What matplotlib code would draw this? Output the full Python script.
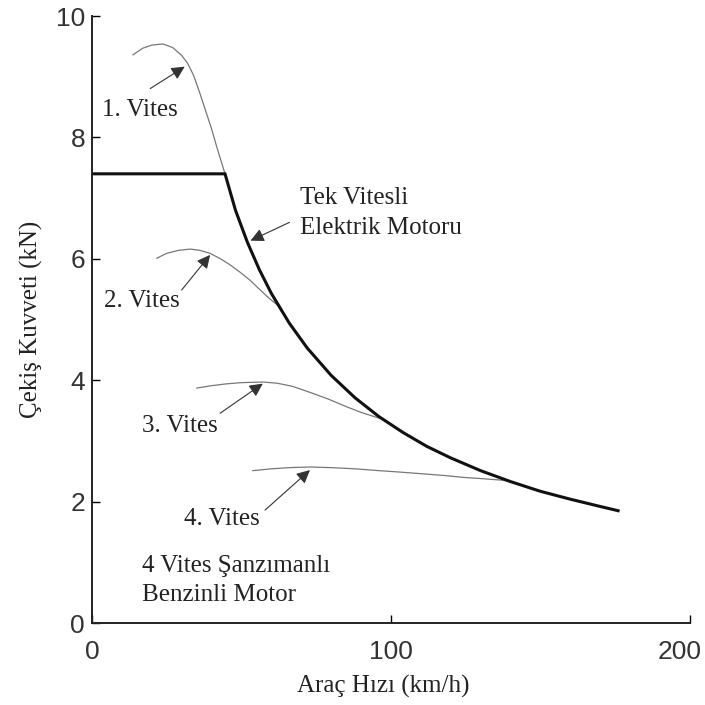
import matplotlib.pyplot as plt
from matplotlib.transforms import ScaledTranslation

plt.rcParams['font.family'] = ['Liberation Serif', 'DejaVu Serif']

# Tek vitesli elektrik motoru (km/h, kN)
ev_speed = [0, 44.5, 48, 52, 56, 60, 66, 72, 80, 88, 96, 104, 112, 120, 130, 140, 150, 160, 170, 176]
ev_force = [7.40, 7.40, 6.80, 6.27, 5.82, 5.43, 4.94, 4.53, 4.08, 3.71, 3.40, 3.14, 2.91, 2.72, 2.51, 2.33, 2.17, 2.04, 1.92, 1.85]

# Benzinli motor, vitesler
g1_speed = [13.7, 17, 20, 23.7, 27, 30, 32, 34, 36, 38, 40, 42, 44.5, 48, 52]
g1_force = [9.36, 9.47, 9.52, 9.54, 9.48, 9.35, 9.22, 9.02, 8.74, 8.44, 8.14, 7.80, 7.40, 6.80, 6.27]
g2_speed = [21.7, 25, 29, 32.8, 36, 39.5, 43, 46.2, 49.5, 52.8, 56, 59, 62, 66]
g2_force = [6.01, 6.09, 6.14, 6.16, 6.14, 6.09, 6.00, 5.90, 5.78, 5.65, 5.50, 5.36, 5.24, 4.94]
g3_speed = [35.1, 40, 45, 50, 57.2, 62, 67, 72.9, 79, 85.3, 90, 97, 104]
g3_force = [3.87, 3.91, 3.94, 3.96, 3.97, 3.95, 3.90, 3.80, 3.69, 3.56, 3.47, 3.36, 3.14]
g4_speed = [53.8, 60, 66, 72.9, 80, 88, 96, 102, 110, 118, 124, 130, 138, 146]
g4_force = [2.51, 2.54, 2.56, 2.57, 2.56, 2.54, 2.51, 2.49, 2.46, 2.43, 2.40, 2.38, 2.35, 2.23]

gear_labels = ['1. Vites', '2. Vites', '3. Vites', '4. Vites']
label_xy = [(3.3, 8.45), (4.0, 5.30), (16.7, 3.24), (30.8, 1.71)]
arrow_tail = [(18.7, 8.78), (29.4, 5.45), (42.1, 3.43), (57.2, 1.83)]
arrow_head = [(31.8, 9.19), (40.1, 6.10), (57.9, 3.97), (73.6, 2.55)]

fs = 18

fig = plt.figure(figsize=(7.05, 7.05), dpi=100)
ax = fig.add_axes([0.1305, 0.1163, 0.848, 0.861])

for xs, ys in [(g1_speed, g1_force), (g2_speed, g2_force), (g3_speed, g3_force), (g4_speed, g4_force)]:
    ax.plot(xs, ys, color='#777777', lw=0.9)
ax.plot(ev_speed, ev_force, color='#111111', lw=2.2, solid_joinstyle='miter')

arrow = dict(arrowstyle='-|>', color='#333333', lw=0.8, mutation_scale=20)
for lab, txy, tail, head in zip(gear_labels, label_xy, arrow_tail, arrow_head):
    ax.text(txy[0], txy[1], lab, fontsize=fs, color='#222222', va='center', ha='left')
    ax.annotate('', xy=head, xytext=tail, arrowprops=arrow)

ax.text(69.6, 7.0, 'Tek Vitesli', fontsize=fs, color='#222222', va='center')
ax.text(69.6, 6.5, 'Elektrik Motoru', fontsize=fs, color='#222222', va='center')
ax.annotate('', xy=(52.2, 6.28), xytext=(66.9, 6.62), arrowprops=arrow)

ax.text(16.7, 0.94, '4 Vites Şanzımanlı', fontsize=fs, color='#222222', va='center')
ax.text(16.7, 0.46, 'Benzinli Motor', fontsize=fs, color='#222222', va='center')

ax.set_xlim(0, 200)
ax.set_ylim(0, 10)
ax.set_xticks([0, 100, 200])
ax.set_yticks([0, 2, 4, 6, 8, 10])
ax.tick_params(direction='in', length=6, width=1, labelsize=19, labelcolor='#333333')
ax.tick_params(axis='x', pad=12)
ax.tick_params(axis='y', pad=5)
for lbl in ax.get_xticklabels() + ax.get_yticklabels():
    lbl.set_family(['Liberation Sans', 'DejaVu Sans'])
# keep the last x label inside the picture
last = ax.get_xticklabels()[-1]
last.set_transform(last.get_transform() + ScaledTranslation(-0.1, 0, fig.dpi_scale_trans))

for side in ['top', 'right']:
    ax.spines[side].set_visible(False)
for side in ['left', 'bottom']:
    ax.spines[side].set_linewidth(1.4)
    ax.spines[side].set_color('#222222')

ax.set_xlabel('Araç Hızı (km/h)', fontsize=fs, color='#222222', labelpad=10)
ax.set_ylabel('Çekiş Kuvveti (kN)', fontsize=fs, color='#222222', labelpad=9)
ax.xaxis.set_label_coords(0.488, -0.085)

fig.savefig('out.png', dpi=100)
